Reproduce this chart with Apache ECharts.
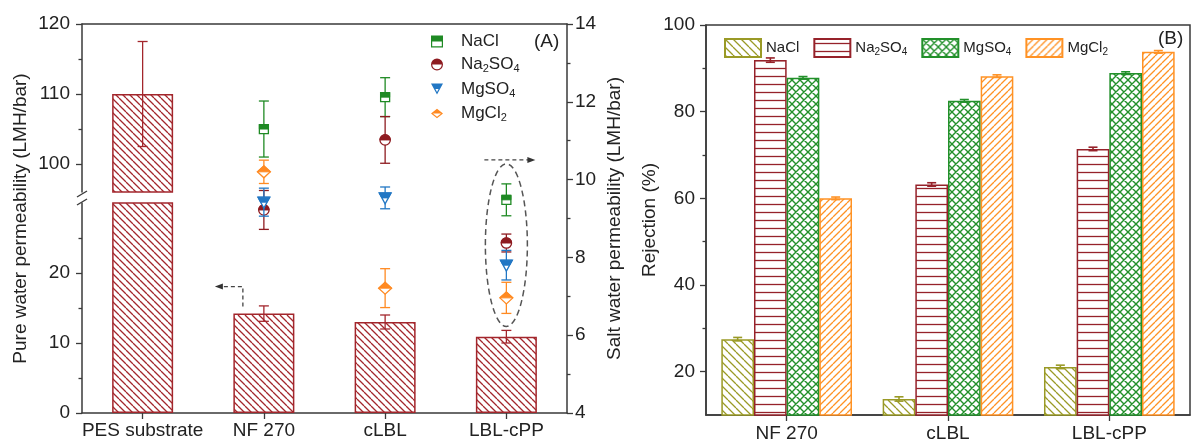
<!DOCTYPE html>
<html><head><meta charset="utf-8">
<script src="https://cdn.jsdelivr.net/npm/echarts@6/dist/echarts.min.js"></script>
<style>html,body{margin:0;padding:0;background:#fff}#c{width:1192px;height:445px}</style>
</head><body><div id="c"></div>
<script>
// ---------------- DATA ----------------
const membranesA = ['PES substrate', 'NF 270', 'cLBL', 'LBL-cPP'];
const pureWater = [110, 14.2, 13.0, 10.9];
const pureWaterErr = [7.5, 1.1, 1.0, 0.9];
const saltNames = ['NaCl', 'Na2SO4', 'MgSO4', 'MgCl2'];
// salt water permeability for NF 270, cLBL, LBL-cPP (right axis)
const saltMembranes = ['NF 270', 'cLBL', 'LBL-cPP'];
const permNaCl = [11.30, 12.12, 9.48];
const permNaClErr = [0.72, 0.50, 0.41];
const permNa2SO4 = [9.22, 11.02, 8.37];
const permNa2SO4Err = [0.50, 0.60, 0.23];
const permMgSO4 = [9.42, 9.53, 7.80];
const permMgSO4Err = [0.36, 0.28, 0.38];
const permMgCl2 = [10.20, 7.21, 6.96];
const permMgCl2Err = [0.30, 0.50, 0.40];
// rejection (%)
const membranesB = ['NF 270', 'cLBL', 'LBL-cPP'];
const rejNaCl = [27.5, 13.7, 21.1];
const rejNaClErr = [0.4, 0.5, 0.4];
const rejNa2SO4 = [91.9, 63.2, 71.4];
const rejNa2SO4Err = [0.5, 0.4, 0.4];
const rejMgSO4 = [87.8, 82.5, 88.9];
const rejMgSO4Err = [0.3, 0.3, 0.3];
const rejMgCl2 = [60.0, 88.2, 93.8];
const rejMgCl2Err = [0.3, 0.3, 0.3];
// tick labels
const ticksUpper = [100, 110, 120];
const minorUpper = [105, 115];
const ticksLower = [0, 10, 20];
const minorLower = [5, 15, 25];
const ticksRej = [20, 40, 60, 80, 100];
const minorRej = [30, 50, 70, 90];

// ---------------- STYLE ----------------
const FONT = '"Liberation Sans", Arial, sans-serif';
const TXT = '#222';
const AX = '#3a3a3a';
const RED_BAR = '#a3262c';
const colA = {NaCl: '#1f8a24', Na2SO4: '#8e1b20', MgSO4: '#2277c4', MgCl2: '#ff8a22'};
const colB = {NaCl: '#9a9a26', Na2SO4: '#96222a', MgSO4: '#22902a', MgCl2: '#ff9224'};

function hatch(color, type, size, lw) {
  const c = document.createElement('canvas');
  c.width = c.height = size;
  const g = c.getContext('2d');
  g.fillStyle = '#fff'; g.fillRect(0, 0, size, size);
  g.strokeStyle = color; g.lineWidth = lw;
  g.beginPath();
  for (const k of [-1, 0, 1]) {
    if (type === 'back' || type === 'cross') { g.moveTo(k * size, 0); g.lineTo(k * size + size, size); }
    if (type === 'fwd' || type === 'cross') { g.moveTo(k * size + size, 0); g.lineTo(k * size, size); }
  }
  if (type === 'horiz') { g.moveTo(0, size / 2 + 0.5); g.lineTo(size, size / 2 + 0.5); }
  g.stroke();
  return {image: c, repeat: 'repeat'};
}

function fmtSalt(s) {
  return s.replace(/([A-Za-z]+)|(\d+)/g, (m, a, d) => a ? '{n|' + a + '}' : '{s|' + d + '}');
}

const chart = echarts.init(document.getElementById('c'));

function axisLineStyle() { return {show: true, onZero: false, lineStyle: {color: AX, width: 1.5}}; }
const lbl = {color: TXT, fontSize: 19, fontFamily: FONT};

// error bar renderer with clipping into coord sys
function errRenderer(color, capW, lw, groupIdx, groupN, gapFrac) {
  return function (params, api) {
    const xi = api.value(0), v = api.value(1), e = api.value(2);
    let yHi = api.coord([xi, v + e])[1], yLo = api.coord([xi, v - e])[1];
    let x = api.coord([xi, v])[0];
    if (groupN) {
      const band = api.size([1, 0])[0];
      const bw = band * (1 - gapFrac) / groupN;
      x += (groupIdx - (groupN - 1) / 2) * bw;
    }
    const cs = params.coordSys;
    const top = cs.y, bot = cs.y + cs.height;
    if (yLo < top || yHi > bot) return null;
    const hiIn = yHi >= top, loIn = yLo <= bot;
    yHi = Math.max(yHi, top); yLo = Math.min(yLo, bot);
    const st = {stroke: color, lineWidth: lw};
    const ch = [{type: 'line', shape: {x1: x, y1: yHi, x2: x, y2: yLo}, style: st}];
    if (hiIn) ch.push({type: 'line', shape: {x1: x - capW / 2, y1: yHi, x2: x + capW / 2, y2: yHi}, style: st});
    if (loIn) ch.push({type: 'line', shape: {x1: x - capW / 2, y1: yLo, x2: x + capW / 2, y2: yLo}, style: st});
    return {type: 'group', children: ch};
  };
}

function markerEls(kind, cx, cy, color) {
  const so = {fill: '#fff', stroke: color, lineWidth: 1.3};
  const sf = {fill: color, stroke: color, lineWidth: 1};
  if (kind === 'NaCl') return [
    {type: 'rect', shape: {x: cx - 4.5, y: cy - 4.5, width: 9, height: 9}, style: so},
    {type: 'rect', shape: {x: cx - 4.5, y: cy - 4.5, width: 9, height: 4.5}, style: sf}];
  if (kind === 'Na2SO4') return [
    {type: 'circle', shape: {cx: cx, cy: cy, r: 5.2}, style: so},
    {type: 'sector', shape: {cx: cx, cy: cy, r0: 0, r: 5.2, startAngle: Math.PI, endAngle: 2 * Math.PI, clockwise: true}, style: sf}];
  if (kind === 'MgSO4') return [
    {type: 'polygon', shape: {points: [[cx - 6, cy - 5], [cx + 6, cy - 5], [cx, cy + 6]]}, style: so},
    {type: 'polygon', shape: {points: [[cx - 6, cy - 5], [cx + 6, cy - 5], [cx + 3.3, cy], [cx - 3.3, cy]]}, style: sf}];
  return [
    {type: 'polygon', shape: {points: [[cx, cy - 6], [cx + 6.5, cy], [cx, cy + 6], [cx - 6.5, cy]]}, style: so},
    {type: 'polygon', shape: {points: [[cx, cy - 6], [cx + 6.5, cy], [cx - 6.5, cy]]}, style: sf}];
}

function saltRenderer(kind, color) {
  return function (params, api) {
    const xi = api.value(0), v = api.value(1), e = api.value(2);
    const p = api.coord([xi, v]);
    const yHi = api.coord([xi, v + e])[1], yLo = api.coord([xi, v - e])[1];
    const x = p[0], st = {stroke: color, lineWidth: 1.3}, cw = 10;
    const ch = [
      {type: 'line', shape: {x1: x, y1: yHi, x2: x, y2: yLo}, style: st},
      {type: 'line', shape: {x1: x - cw / 2, y1: yHi, x2: x + cw / 2, y2: yHi}, style: st},
      {type: 'line', shape: {x1: x - cw / 2, y1: yLo, x2: x + cw / 2, y2: yLo}, style: st}
    ].concat(markerEls(kind, x, p[1], color));
    return {type: 'group', children: ch};
  };
}

const ICONS = {
  NaCl: 'path://M0,0 L20,0 L20,20 L0,20 Z M2,2 L2,18 L18,18 L18,2 Z M0,0 L20,0 L20,10 L0,10 Z',
  Na2SO4: 'path://M0,10 A10,10 0 1,1 20,10 A10,10 0 1,1 0,10 Z M2,10 A8,8 0 1,0 18,10 A8,8 0 1,0 2,10 Z M0,10 A10,10 0 0,1 20,10 Z',
  MgSO4: 'path://M0,0 L20,0 L10,18 Z M3.6,1.6 L10,14.2 L16.4,1.6 Z M0,0 L20,0 L15,9 L5,9 Z',
  MgCl2: 'path://M10,0 L20,8 L10,16 L0,8 Z M10,2.6 L3.2,8 L10,13.4 L16.8,8 Z M10,0 L20,8 L0,8 Z'
};

const saltPerm = {
  NaCl: [permNaCl, permNaClErr], Na2SO4: [permNa2SO4, permNa2SO4Err],
  MgSO4: [permMgSO4, permMgSO4Err], MgCl2: [permMgCl2, permMgCl2Err]
};
const rejData = {
  NaCl: [rejNaCl, rejNaClErr], Na2SO4: [rejNa2SO4, rejNa2SO4Err],
  MgSO4: [rejMgSO4, rejMgSO4Err], MgCl2: [rejMgCl2, rejMgCl2Err]
};
const patB = {
  NaCl: hatch(colB.NaCl, 'back', 8, 1.3),
  Na2SO4: hatch(colB.Na2SO4, 'horiz', 8, 1.3),
  MgSO4: hatch(colB.MgSO4, 'cross', 8, 1.4),
  MgCl2: hatch(colB.MgCl2, 'fwd', 7, 1.3)
};
const patA = hatch(RED_BAR, 'back', 7, 1.3);

const series = [];
// panel A bars (upper and lower part of broken axis)
[[0, 0], [1, 2]].forEach(([xi, yi]) => {
  series.push({type: 'bar', xAxisIndex: xi, yAxisIndex: yi, data: pureWater, barWidth: 61, clip: true, silent: true,
    itemStyle: {color: patA, borderColor: RED_BAR, borderWidth: 1.5}, z: 2});
  series.push({type: 'custom', xAxisIndex: xi, yAxisIndex: yi, silent: true, z: 3,
    data: pureWater.map((v, i) => [i, v, pureWaterErr[i]]),
    renderItem: errRenderer(RED_BAR, 10, 1.3)});
});
// panel A salt permeability (right axis)
saltNames.forEach(s => {
  const [vals, errs] = saltPerm[s];
  series.push({type: 'custom', name: 'A-' + s, xAxisIndex: 2, yAxisIndex: 4, silent: true, z: 5,
    itemStyle: {color: colA[s]},
    data: vals.map((v, i) => [membranesA.indexOf(saltMembranes[i]), v, errs[i]]),
    renderItem: saltRenderer(s, colA[s])});
});
// panel B bars
const GAPB = 0.19;
saltNames.forEach((s, k) => {
  const [vals] = rejData[s];
  series.push({type: 'bar', name: 'B-' + s, xAxisIndex: 3, yAxisIndex: 6, data: vals, silent: true,
    barGap: '0%', barCategoryGap: (GAPB * 100) + '%',
    itemStyle: {color: patB[s], borderColor: colB[s], borderWidth: 1.5}, z: 2});
});
saltNames.forEach((s, k) => {
  const [vals, errs] = rejData[s];
  series.push({type: 'custom', xAxisIndex: 3, yAxisIndex: 6, silent: true, z: 4,
    data: vals.map((v, i) => [i, v, errs[i]]),
    renderItem: errRenderer(colB[s], 9, 1.6, k, 4, GAPB)});
});

const richA = {
  sp: {width: 13},
  n: {fontSize: 17, lineHeight: 20, fontFamily: FONT, color: TXT},
  s: {fontSize: 11, lineHeight: 8, verticalAlign: 'bottom', fontFamily: FONT, color: TXT}
};
const richB = {
  n: {fontSize: 15, lineHeight: 18, fontFamily: FONT, color: TXT},
  s: {fontSize: 10, lineHeight: 7, verticalAlign: 'bottom', fontFamily: FONT, color: TXT}
};

function minorAxis(grid, min, max, vals, pos) {
  return {type: 'value', gridIndex: grid, position: pos, min: min, max: max,
    axisLine: {show: false}, splitLine: {show: false}, axisLabel: {show: false},
    axisTick: {show: true, inside: false, length: 3.5, customValues: vals, lineStyle: {color: AX, width: 1.3}}};
}

const option = {
  animation: false,
  backgroundColor: '#fff',
  textStyle: {fontFamily: FONT},
  grid: [
    {left: 82, width: 485, top: 24, height: 168, outerBoundsMode: 'none', containLabel: false},
    {left: 82, width: 485, top: 203, height: 210, outerBoundsMode: 'none', containLabel: false},
    {left: 82, width: 485, top: 24, height: 389, outerBoundsMode: 'none', containLabel: false},
    {left: 706, right: 2, top: 25, bottom: 30, outerBoundsMode: 'none', containLabel: false,
      show: true, borderColor: AX, borderWidth: 1.5, backgroundColor: 'transparent'}
  ],
  xAxis: [
    {type: 'category', gridIndex: 0, data: membranesA, show: false},
    {type: 'category', gridIndex: 1, data: membranesA, position: 'bottom', axisLine: axisLineStyle(),
      axisTick: {show: true, alignWithLabel: true, inside: false, length: 6, lineStyle: {color: AX, width: 1.3}},
      axisLabel: Object.assign({margin: 8, interval: 0}, lbl), splitLine: {show: false}},
    {type: 'category', gridIndex: 2, data: membranesA, position: 'top', axisLine: axisLineStyle(),
      axisTick: {show: false}, axisLabel: {show: false}, splitLine: {show: false}},
    {type: 'category', gridIndex: 3, data: membranesB, position: 'bottom', axisLine: axisLineStyle(),
      axisTick: {show: true, alignWithLabel: true, inside: false, length: 6, lineStyle: {color: AX, width: 1.3}},
      axisLabel: Object.assign({margin: 9, interval: 0}, lbl), splitLine: {show: false}}
  ],
  yAxis: [
    {type: 'value', gridIndex: 0, position: 'left', min: 96, max: 120, axisLine: axisLineStyle(), splitLine: {show: false},
      axisTick: {show: true, inside: false, length: 6, customValues: ticksUpper, lineStyle: {color: AX, width: 1.3}},
      axisLabel: Object.assign({margin: 12, customValues: ticksUpper}, lbl)},
    minorAxis(0, 96, 120, minorUpper, 'left'),
    {type: 'value', gridIndex: 1, position: 'left', min: 0, max: 30, axisLine: axisLineStyle(), splitLine: {show: false},
      axisTick: {show: true, inside: false, length: 6, customValues: ticksLower, lineStyle: {color: AX, width: 1.3}},
      axisLabel: Object.assign({margin: 12, customValues: ticksLower}, lbl)},
    minorAxis(1, 0, 30, minorLower, 'left'),
    {type: 'value', gridIndex: 2, position: 'right', min: 4, max: 14, interval: 2, axisLine: axisLineStyle(),
      splitLine: {show: false},
      axisTick: {show: true, inside: false, length: 6, lineStyle: {color: AX, width: 1.3}},
      minorTick: {show: true, splitNumber: 2, length: 3.5, lineStyle: {color: AX, width: 1.3}},
      axisLabel: Object.assign({margin: 8}, lbl),
      name: 'Salt water permeability (LMH/bar)', nameLocation: 'middle', nameRotate: 90, nameGap: 38,
      nameTextStyle: {color: TXT, fontSize: 19, fontFamily: FONT}},
    {type: 'value', gridIndex: 2, position: 'left', min: 0, max: 1, axisLine: {show: false}, axisTick: {show: false},
      axisLabel: {show: false}, splitLine: {show: false},
      name: 'Pure water permeability (LMH/bar)', nameLocation: 'middle', nameRotate: 90, nameGap: 52,
      nameTextStyle: {color: TXT, fontSize: 19, fontFamily: FONT}},
    {type: 'value', gridIndex: 3, position: 'left', min: 10, max: 100, axisLine: axisLineStyle(), splitLine: {show: false},
      axisTick: {show: true, inside: false, length: 6, customValues: ticksRej, lineStyle: {color: AX, width: 1.3}},
      axisLabel: Object.assign({margin: 11, customValues: ticksRej}, lbl),
      name: 'Rejection (%)', nameLocation: 'middle', nameRotate: 90, nameGap: 44,
      nameTextStyle: {color: TXT, fontSize: 19, fontFamily: FONT}},
    minorAxis(3, 10, 100, minorRej, 'left')
  ],
  legend: [
    {orient: 'vertical', left: 426, top: 28, itemWidth: 12, itemHeight: 12, itemGap: 6, selectedMode: false,
      data: saltNames.map(s => ({name: 'A-' + s, icon: ICONS[s]})),
      formatter: n => '{sp| }' + fmtSalt(n.slice(2)),
      textStyle: {rich: richA, fontSize: 17, color: TXT}},
    {orient: 'horizontal', left: 719, top: 33, itemWidth: 36, itemHeight: 18, itemGap: 14, selectedMode: false,
      data: saltNames.map(s => ({name: 'B-' + s, icon: 'rect'})),
      formatter: n => fmtSalt(n.slice(2)),
      textStyle: {rich: richB, fontSize: 15, color: TXT}}
  ],
  series: series
};
chart.setOption(option);

// ---------------- ANNOTATIONS (positioned from data through the axes) ----------------
const dash = {stroke: '#444', lineWidth: 1.3, lineDash: [4, 3], fill: null};
const pNF = chart.convertToPixel({xAxisIndex: 1, yAxisIndex: 2}, [1, pureWater[1]]);
const ax1x = pNF[0] - 21, ax1y = pNF[1] - 27, ax1end = pNF[0] - 49;
const li = membranesA.indexOf('LBL-cPP');
const his = saltNames.map(s => saltPerm[s][0][2] + saltPerm[s][1][2]);
const los = saltNames.map(s => saltPerm[s][0][2] - saltPerm[s][1][2]);
const pTop = chart.convertToPixel({xAxisIndex: 2, yAxisIndex: 4}, [li, Math.max.apply(null, his)]);
const pBot = chart.convertToPixel({xAxisIndex: 2, yAxisIndex: 4}, [li, Math.min.apply(null, los)]);
const eTop = pTop[1] - 20, eBot = pBot[1] + 13, ecx = pTop[0];
const a2y = eTop - 4;
const gA = chart.getModel().getComponent('grid', 2).coordinateSystem.getRect();
const gB = chart.getModel().getComponent('grid', 3).coordinateSystem.getRect();
const gU = chart.getModel().getComponent('grid', 0).coordinateSystem.getRect();
const gL = chart.getModel().getComponent('grid', 1).coordinateSystem.getRect();
const bx = gU.x, by1 = gU.y + gU.height, by2 = gL.y;

chart.setOption({
  graphic: [
    {type: 'text', left: gA.x + gA.width - 33, top: gA.y + 8, style: {text: '(A)', font: '19px ' + FONT, fill: TXT}},
    {type: 'text', left: gB.x + gB.width - 32, top: gB.y + 4, style: {text: '(B)', font: '19px ' + FONT, fill: TXT}},
    {type: 'rect', shape: {x: bx - 2, y: by1 + 1, width: 4, height: by2 - by1 - 2}, style: {fill: '#fff'}, z: 50},
    {type: 'line', shape: {x1: bx - 5, y1: by1 + 5, x2: bx + 5, y2: by1 - 1}, style: {stroke: AX, lineWidth: 1.4}, z: 51},
    {type: 'line', shape: {x1: bx - 5, y1: by2 + 2, x2: bx + 5, y2: by2 - 4}, style: {stroke: AX, lineWidth: 1.4}, z: 51},
    {type: 'polyline', shape: {points: [[ax1x, pNF[1] - 7], [ax1x, ax1y], [ax1end + 6, ax1y]]}, style: dash, z: 20},
    {type: 'polygon', shape: {points: [[ax1end, ax1y], [ax1end + 8, ax1y - 3], [ax1end + 8, ax1y + 3]]}, style: {fill: '#333'}, z: 20},
    {type: 'line', shape: {x1: ecx - 22, y1: a2y, x2: ecx + 22, y2: a2y}, style: dash, z: 20},
    {type: 'polygon', shape: {points: [[ecx + 29, a2y], [ecx + 21, a2y - 3], [ecx + 21, a2y + 3]]}, style: {fill: '#333'}, z: 20},
    {type: 'ellipse', shape: {cx: ecx, cy: (eTop + eBot) / 2, rx: 21, ry: (eBot - eTop) / 2},
      style: {fill: null, stroke: '#555', lineWidth: 1.5, lineDash: [6, 4]}, z: 20}
  ]
});
</script>
</body></html>
